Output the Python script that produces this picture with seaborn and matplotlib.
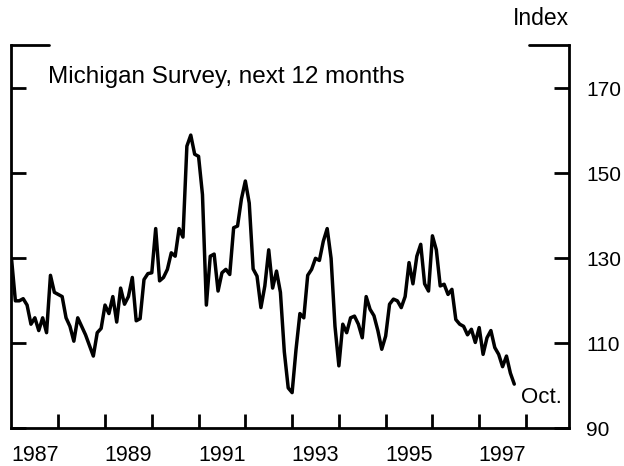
import numpy as np
import pandas as pd
import matplotlib
matplotlib.use("Agg")
import matplotlib.pyplot as plt
import seaborn as sns

# Monthly index values, Jan 1987 - Oct 1997
start_year = 1987
values = [
    130, 120, 120, 120.5, 119, 114.5, 116, 113, 116, 112.5,
    126, 122, 121.5, 121, 116, 114, 110.5, 116, 114, 112,
    109.5, 107, 112.5, 113.5, 119, 117, 121, 115, 123, 119.2,
    121, 125.5, 115.3, 115.8, 125, 126.4, 126.6, 137, 124.7, 125.5,
    127.4, 131.3, 130.5, 137, 135, 156.4, 159, 154.5, 154, 145,
    119, 130.5, 131, 122.3, 126.6, 127.4, 126.2, 137.2, 137.6, 144,
    148.2, 143, 127.5, 125.8, 118.4, 123.5, 132, 123, 127, 122,
    108, 99.5, 98.4, 108.5, 117, 116, 126, 127.4, 130, 129.5,
    134, 137, 130, 114, 104.7, 114.5, 112.5, 116, 116.4, 114.5,
    111.3, 121, 118, 116.5, 113, 108.6, 111.7, 119.2, 120.4, 120,
    118.4, 121, 129, 124, 130.5, 133.3, 124, 122.3, 135.3, 132,
    123.5, 123.9, 121.5, 122.7, 115.6, 114.5, 114, 112, 113.3, 110.2,
    113.7, 107.4, 111.3, 113, 109, 107.4, 104.5, 107, 103, 100.4,
]
year_labels = ["1987", "1989", "1991", "1993", "1995", "1997"]
y_ticks = [90, 110, 130, 150, 170]
panel_title = "Michigan Survey, next 12 months"
unit_label = "Index"
end_label = "Oct."

df = pd.DataFrame({
    "t": start_year + np.arange(len(values)) / 12.0,
    "v": values,
})

sns.set_style("ticks")
plt.rcParams["font.family"] = ["Liberation Sans", "DejaVu Sans"]

fig = plt.figure(figsize=(6.24, 4.66), dpi=100)
ax = fig.add_axes([0.0184, 0.0809, 0.8942, 0.8225])

sns.lineplot(data=df, x="t", y="v", ax=ax, color="black", linewidth=2.5)

ax.set_xlim(1987, 1998.93)
ax.set_ylim(90, 180.2)
ax.set_xlabel("")
ax.set_ylabel("")

# spines
for s in ["left", "right", "bottom"]:
    ax.spines[s].set_visible(True)
    ax.spines[s].set_linewidth(2.0)
    ax.spines[s].set_color("black")
ax.spines["top"].set_visible(False)
ax.axhline(180.2, 0, 0.067, color="black", linewidth=2.0, clip_on=False)
ax.axhline(180.2, 0.927, 1.0, color="black", linewidth=2.0, clip_on=False)

# x ticks: year boundaries (major, unlabeled), mid-year labels (minor)
ax.set_xticks(np.arange(1988, 1999))
ax.set_xticklabels([])
ax.set_xticks([int(y) + 0.5 for y in year_labels], minor=True)
ax.set_xticklabels(year_labels, minor=True)
ax.tick_params(axis="x", which="major", direction="in", length=10, width=2.0, color="black")
ax.tick_params(axis="x", which="minor", length=0, labelsize=15.5, pad=12, labelcolor="black")

# y ticks on both sides, labels on right
ax.set_yticks(y_ticks)
ax.set_yticklabels([str(v) for v in y_ticks])
ax.tick_params(axis="y", which="major", direction="in", length=10.5, width=2.0, color="black",
               left=True, right=True, labelleft=False, labelright=True, labelsize=15, pad=12,
               labelcolor="black")

ax.text(0.0657, 0.901, panel_title, transform=ax.transAxes, fontsize=17.5,
        ha="left", va="baseline", color="black")
ax.text(1.0, 1.04, unit_label, transform=ax.transAxes, fontsize=16.5,
        ha="right", va="bottom", color="black")
ax.annotate(end_label, xy=(df["t"].iloc[-1], df["v"].iloc[-1]), xytext=(5, -2),
            textcoords="offset points", ha="left", va="top", fontsize=16, color="black")

fig.savefig("out.png", dpi=100)
